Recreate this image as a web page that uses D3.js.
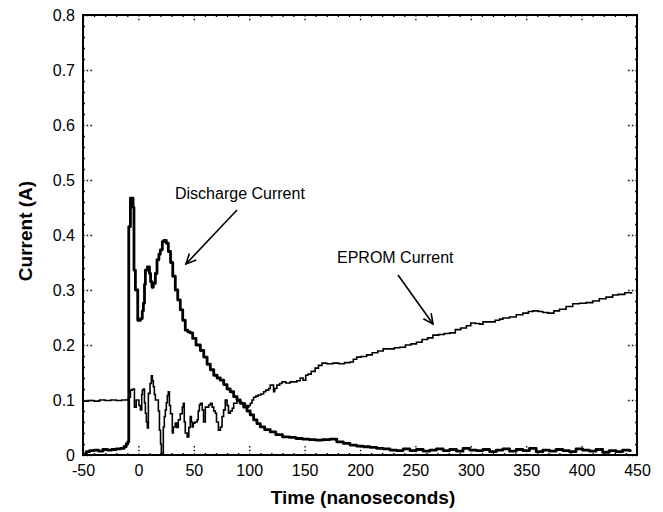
<!DOCTYPE html>
<html>
<head>
    <meta charset="utf-8">
    <title>Discharge and EPROM Current</title>
    <style>
        body { margin: 0; background: #fff; }
        text { font-family: "Liberation Sans", Arial, sans-serif; fill: #000; }
        .tick-label { font-size: 16px; }
        .axis-title { font-size: 19px; font-weight: bold; }
        .note { font-size: 16px; }
        .axis path { display: none; }
        .axis line { stroke: #000; stroke-width: 1.3px; }
        .major line { stroke-dasharray: 1.5, 2.2; }
    </style>
</head>
<body>
<script src="https://cdnjs.cloudflare.com/ajax/libs/d3/7.8.5/d3.min.js"></script>
<script>
    // Tick values and labels
    const xTicks = [-50, 0, 50, 100, 150, 200, 250, 300, 350, 400, 450];
    const xTickLabels = ["-50", "0", "50", "100", "150", "200", "250", "300", "350", "400", "450"];
    const yTicks = [0, 0.1, 0.2, 0.3, 0.4, 0.5, 0.6, 0.7, 0.8];
    const yTickLabels = ["0", "0.1", "0.2", "0.3", "0.4", "0.5", "0.6", "0.7", "0.8"];

    // Discharge current (thick trace)
    const dischargeTime = [-50, -47, -44, -40, -36, -32, -28, -24, -20, -16, -13, -11, -9.5, -8.7, -7.2, -4.8, -4, -2.7, -0.6, 2, 3.5, 4.5, 5.5, 6.3, 8.1, 10, 11, 12.3, 13.5, 15.3, 16.8, 18.5, 19.8, 21.6, 23, 25.2, 27, 29, 31, 33.3, 35.5, 37.8, 40, 42.3, 44.5, 46.8, 49, 52, 55.9, 59, 62, 64.9, 68, 71, 73.9, 77, 80, 82.9, 86, 89, 91.9, 95, 98, 100.9, 104, 107, 110, 114, 119, 124, 130, 136, 142, 148, 154, 160, 166, 173, 179, 185, 191, 197, 203, 209, 215, 221, 227, 233, 239, 245, 251, 257, 263, 269, 275, 281, 287, 293, 299, 305, 311, 317, 323, 329, 335, 341, 347, 353, 359, 365, 371, 377, 383, 389, 395, 401, 407, 413, 419, 425, 431, 437, 443, 445];
    const dischargeCurrent = [0.002, 0.006, 0.008, 0.009, 0.007, 0.010, 0.009, 0.010, 0.011, 0.012, 0.015, 0.020, 0.024, 0.415, 0.467, 0.45, 0.336, 0.30, 0.245, 0.248, 0.262, 0.276, 0.31, 0.336, 0.342, 0.33, 0.315, 0.305, 0.312, 0.33, 0.355, 0.365, 0.373, 0.388, 0.39, 0.385, 0.37, 0.35, 0.325, 0.30, 0.282, 0.264, 0.245, 0.227, 0.224, 0.222, 0.212, 0.20, 0.19, 0.178, 0.165, 0.155, 0.145, 0.14, 0.136, 0.128, 0.12, 0.115, 0.106, 0.10, 0.094, 0.087, 0.08, 0.073, 0.064, 0.057, 0.051, 0.046, 0.042, 0.037, 0.033, 0.032, 0.030, 0.029, 0.028, 0.027, 0.028, 0.029, 0.024, 0.021, 0.018, 0.016, 0.015, 0.014, 0.012, 0.011, 0.009, 0.008, 0.011, 0.008, 0.010, 0.007, 0.009, 0.011, 0.008, 0.010, 0.007, 0.012, 0.009, 0.008, 0.010, 0.006, 0.009, 0.011, 0.007, 0.010, 0.008, 0.012, 0.006, 0.009, 0.007, 0.010, 0.008, 0.006, 0.011, 0.009, 0.007, 0.010, 0.005, 0.008, 0.006, 0.009, 0.008, 0.008];

    // EPROM current (thin trace)
    const epromTime = [-50, -45, -40, -35, -30, -25, -20, -15, -10, -8.5, -7.2, -5.5, -4.5, -3.6, -2, -1, 0.5, 1.8, 3, 3.6, 4.5, 5.5, 6.3, 7.2, 8.1, 9, 10.5, 11.7, 12.6, 13.5, 14.4, 15.3, 17, 18, 19, 20, 20.7, 21.6, 22.5, 23.4, 24.3, 25.2, 26.1, 27, 28, 29, 30.6, 31.5, 33.3, 34.5, 36, 37.8, 39.6, 40.5, 41.4, 42.3, 44, 45.5, 46.8, 47.8, 48.6, 49.5, 51, 53, 54, 55, 56, 57.6, 58.8, 60.4, 62, 63.4, 65, 66.6, 68, 69.4, 70.5, 72.2, 74, 75.5, 76.9, 78.4, 80, 81.3, 83, 84.7, 86, 87.6, 89, 90.5, 91.9, 93.5, 94.8, 96.5, 98, 99.5, 101, 102.5, 104, 106, 108, 110.5, 113, 115, 117.6, 119, 120.7, 122, 123, 125, 127.5, 129.6, 133, 137, 140, 143, 146, 148.6, 151, 153, 156, 159.5, 162.5, 165.7, 170, 175.7, 181, 186, 191, 194, 197, 201, 206, 211, 216, 221, 226, 231, 236, 241, 246, 251, 256, 261, 265.8, 271, 276, 281, 286, 291, 296, 300, 304, 308, 311, 317, 322, 326, 329, 335, 341, 347, 352, 356, 361, 365, 369.6, 375, 380, 386, 392, 398, 404, 410, 416, 422, 428, 433, 439, 445];
    const epromCurrent = [0.098, 0.099, 0.098, 0.100, 0.099, 0.100, 0.099, 0.100, 0.101, 0.105, 0.118, 0.12, 0.12, 0.087, 0.1, 0.1, 0.09, 0.082, 0.11, 0.118, 0.12, 0.095, 0.076, 0.06, 0.049, 0.112, 0.13, 0.144, 0.135, 0.124, 0.11, 0.1, 0.1, 0.08, 0.045, 0.02, 0.003, 0.0, 0.051, 0.07, 0.082, 0.095, 0.108, 0.115, 0.09, 0.075, 0.04, 0.051, 0.058, 0.05, 0.064, 0.075, 0.087, 0.094, 0.06, 0.04, 0.033, 0.05, 0.07, 0.06, 0.051, 0.058, 0.06, 0.064, 0.08, 0.091, 0.094, 0.082, 0.06, 0.087, 0.087, 0.091, 0.094, 0.087, 0.08, 0.076, 0.06, 0.045, 0.051, 0.07, 0.082, 0.1, 0.09, 0.076, 0.08, 0.085, 0.094, 0.094, 0.1, 0.098, 0.096, 0.094, 0.094, 0.09, 0.087, 0.09, 0.094, 0.1, 0.105, 0.107, 0.109, 0.111, 0.115, 0.118, 0.121, 0.127, 0.127, 0.115, 0.121, 0.127, 0.13, 0.133, 0.131, 0.133, 0.133, 0.135, 0.14, 0.136, 0.145, 0.147, 0.152, 0.158, 0.163, 0.167, 0.166, 0.167, 0.166, 0.168, 0.169, 0.174, 0.178, 0.179, 0.182, 0.186, 0.189, 0.193, 0.193, 0.195, 0.196, 0.2, 0.202, 0.205, 0.21, 0.213, 0.218, 0.219, 0.221, 0.222, 0.228, 0.231, 0.235, 0.24, 0.239, 0.238, 0.242, 0.242, 0.245, 0.247, 0.249, 0.251, 0.255, 0.258, 0.261, 0.262, 0.261, 0.259, 0.258, 0.262, 0.265, 0.27, 0.275, 0.276, 0.277, 0.28, 0.284, 0.287, 0.291, 0.292, 0.295, 0.293];

    // Layout
    const W = 663, H = 512;
    const margin = {top: 15, right: 26, bottom: 57, left: 83};
    const width = W - margin.left - margin.right;
    const height = H - margin.top - margin.bottom;

    const svg = d3.select("body").append("svg")
        .attr("width", W)
        .attr("height", H);

    const g = svg.append("g")
        .attr("transform", `translate(${margin.left},${margin.top})`);

    const x = d3.scaleLinear().domain([-50, 450]).range([0, width]);
    const y = d3.scaleLinear().domain([0, 0.8]).range([height, 0]);

    // Minor ticks (little dots inside the frame)
    const xMinor = d3.range(-50, 451, 10).filter(v => v % 50 !== 0);
    const yMinor = d3.range(0, 0.801, 0.02).filter((v, i) => i % 5 !== 0);

    g.append("g").attr("class", "axis")
        .attr("transform", `translate(0,${height})`)
        .call(d3.axisBottom(x).tickValues(xMinor).tickSize(-2).tickFormat(""));
    g.append("g").attr("class", "axis")
        .call(d3.axisTop(x).tickValues(xMinor).tickSize(-2).tickFormat(""));
    g.append("g").attr("class", "axis")
        .call(d3.axisLeft(y).tickValues(yMinor).tickSize(-2).tickFormat(""));
    g.append("g").attr("class", "axis")
        .attr("transform", `translate(${width},0)`)
        .call(d3.axisRight(y).tickValues(yMinor).tickSize(-2).tickFormat(""));

    // Major ticks (dotted, pointing inward) with labels
    const xAxis = g.append("g").attr("class", "axis major")
        .attr("transform", `translate(0,${height})`)
        .call(d3.axisBottom(x).tickValues(xTicks).tickSizeInner(-10).tickSizeOuter(0).tickPadding(10)
            .tickFormat((d, i) => xTickLabels[i]));
    xAxis.selectAll("text").attr("class", "tick-label").attr("fill", "#000");

    g.append("g").attr("class", "axis major")
        .call(d3.axisTop(x).tickValues(xTicks).tickSizeInner(-6).tickSizeOuter(0).tickFormat(""));

    const yAxis = g.append("g").attr("class", "axis major")
        .call(d3.axisLeft(y).tickValues(yTicks).tickSizeInner(-10).tickSizeOuter(0).tickPadding(8)
            .tickFormat((d, i) => yTickLabels[i]));
    yAxis.selectAll("text").attr("class", "tick-label").attr("fill", "#000");

    g.append("g").attr("class", "axis major")
        .attr("transform", `translate(${width},0)`)
        .call(d3.axisRight(y).tickValues(yTicks).tickSizeInner(-10).tickSizeOuter(0).tickFormat(""));

    // Frame
    g.append("rect")
        .attr("width", width)
        .attr("height", height)
        .attr("fill", "none")
        .attr("stroke", "#000")
        .attr("stroke-width", 2);

    // Traces
    const line = d3.line()
        .x(d => x(d[0]))
        .y(d => y(d[1]))
        .curve(d3.curveStepAfter);

    g.append("path")
        .datum(d3.zip(epromTime, epromCurrent))
        .attr("fill", "none")
        .attr("stroke", "#000")
        .attr("stroke-width", 1.6)
        .attr("d", line);

    g.append("path")
        .datum(d3.zip(dischargeTime, dischargeCurrent))
        .attr("fill", "none")
        .attr("stroke", "#000")
        .attr("stroke-width", 2.8)
        .attr("stroke-linejoin", "round")
        .attr("d", line);

    // Annotations with open arrowheads
    function arrow(x1, y1, x2, y2) {
        const a = Math.atan2(y2 - y1, x2 - x1);
        const len = 11, spread = 0.45;
        g.append("line")
            .attr("x1", x1).attr("y1", y1).attr("x2", x2).attr("y2", y2)
            .attr("stroke", "#000").attr("stroke-width", 1.6);
        g.append("path")
            .attr("d", `M${x2 - len * Math.cos(a - spread)},${y2 - len * Math.sin(a - spread)}
                        L${x2},${y2}
                        L${x2 - len * Math.cos(a + spread)},${y2 - len * Math.sin(a + spread)}`)
            .attr("fill", "none").attr("stroke", "#000").attr("stroke-width", 1.6);
    }

    g.append("text").attr("class", "note")
        .attr("x", 175 - margin.left).attr("y", 199 - margin.top)
        .text("Discharge Current");
    arrow(237 - margin.left, 210 - margin.top, 186 - margin.left, 264 - margin.top);

    g.append("text").attr("class", "note")
        .attr("x", 337 - margin.left).attr("y", 263 - margin.top)
        .text("EPROM Current");
    arrow(398 - margin.left, 275 - margin.top, 433 - margin.left, 324 - margin.top);

    // Axis titles
    svg.append("text").attr("class", "axis-title")
        .attr("text-anchor", "middle")
        .attr("x", margin.left + width / 2 + 3)
        .attr("y", 504)
        .text("Time (nanoseconds)");

    svg.append("text").attr("class", "axis-title")
        .attr("text-anchor", "middle")
        .attr("transform", "translate(32,231) rotate(-90)")
        .text("Current (A)");
</script>
</body>
</html>
